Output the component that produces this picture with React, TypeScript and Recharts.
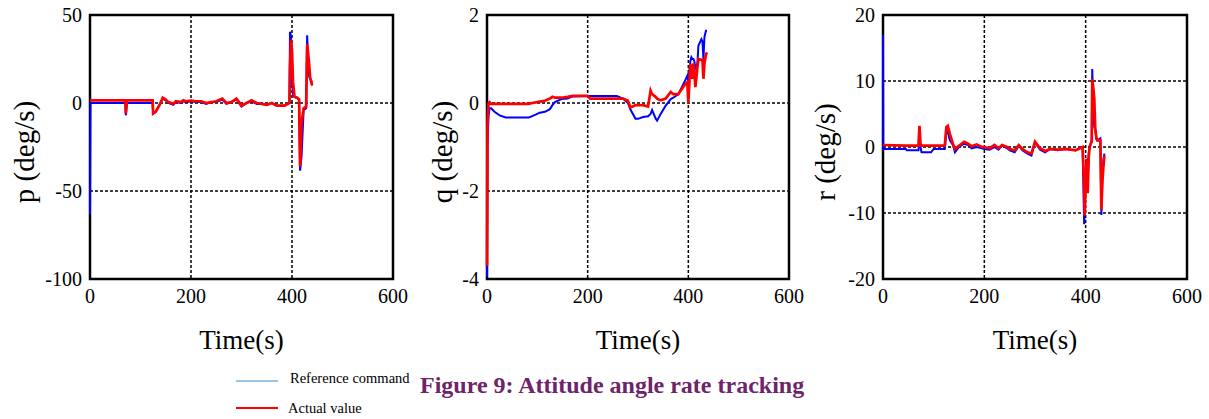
import React from 'react';
import { LineChart, Line, XAxis, YAxis, CartesianGrid, ReferenceArea, Label } from 'recharts';

// ---------- data ----------
const X_TICKS = [0, 200, 400, 600];

const P_TIME = [0, 1, 70, 71, 73, 124, 125, 130, 138, 144, 150, 155, 165, 170, 180, 185, 190, 200, 210, 220, 230, 240, 250, 262, 270, 280, 290, 300, 310, 320, 330, 340, 350, 360, 370, 385, 395, 396, 398, 400, 402, 405, 410, 414, 416, 419, 423, 428, 430, 432, 434, 436, 438, 440];
const P_REF = [-63, 0, 0, -7, 0, 0, -6, -5, -1, 2.5, 1.5, 0, -1, 0.5, 0, 1, 0.5, 1, 0.5, 0.5, -0.5, 0.5, 0.5, 2, -0.5, 0.5, 2, -2, 0, 1, -0.5, -0.5, -1, 0, -1.5, -1.5, 0, 40.5, 38, 12, 5, 3.5, 3, 2, -38.5, -30, -4, -3, 38.5, 25, 15, 14, 13, 10];
const P_ACT = [1.5, 1.5, 1.5, -6, 1.5, 1.5, -6, -5, -1, 3, 2, 0.5, -0.5, 1, 0.5, 1.5, 1, 1.3, 1, 1, 0, 0.5, 1, 2.5, 0, 0.5, 2.5, -1.5, 0, 1.5, 0, -0.5, -1, 0, -1.5, -1.5, 0, 20, 36, 30, 12, 3.5, 3, 2, -36, -11, -3, -2, 33.5, 28, 22, 14, 12, 10];
const P_TICKS = [-100, -50, 0, 50];

const Q_TIME = [0, 1, 3, 5, 8, 15, 25, 37, 83, 90, 105, 115, 125, 130, 135, 148, 160, 170, 200, 205, 258, 270, 280, 285, 295, 300, 310, 320, 325, 328, 335, 338, 345, 355, 365, 370, 380, 392, 398, 400, 404, 406, 408, 410, 412, 414, 418, 420, 426, 428, 430, 432, 435, 437];
const Q_REF = [-3.95, -0.9, -0.3, -0.12, -0.12, -0.2, -0.28, -0.33, -0.33, -0.3, -0.22, -0.2, -0.14, -0.05, 0.02, 0.09, 0.1, 0.15, 0.16, 0.16, 0.16, 0.1, 0, -0.15, -0.36, -0.36, -0.32, -0.3, -0.25, -0.16, -0.35, -0.4, -0.25, -0.06, 0.09, 0.12, 0.2, 0.47, 0.62, 0.5, 0.95, 1.04, 1.0, 1.0, 0.95, 0.8, 0.9, 1.3, 1.45, 1.4, 1.0, 1.5, 1.64, 1.64];
const Q_ACT = [-3.7, -0.5, 0, 0.02, -0.02, -0.02, -0.02, -0.02, -0.02, 0, 0.03, 0.05, 0.1, 0.14, 0.12, 0.12, 0.14, 0.16, 0.16, 0.1, 0.1, 0.1, 0.05, -0.1, -0.05, -0.05, -0.05, -0.08, 0.28, 0.2, 0.14, 0.1, 0.06, 0.1, 0.25, 0.2, 0.2, 0.4, 0.47, 0, 0.89, 0.7, 0.55, 0.9, 0.7, 0.36, 0.8, 1.0, 0.98, 0.98, 0.55, 0.9, 1.1, 1.15];
const Q_TICKS = [-4, -2, 0, 2];

const R_TIME = [0, 0.5, 45, 47, 70, 72, 74, 76, 95, 100, 122, 125, 128, 132, 138, 142, 150, 160, 168, 175, 185, 195, 200, 210, 220, 228, 235, 245, 250, 260, 268, 275, 285, 293, 300, 310, 320, 330, 345, 360, 380, 394, 397, 398, 400, 402, 404, 406, 408, 410, 412, 413, 415, 417, 419, 421, 423, 429, 431, 433, 435, 437];
const R_REF = [17, -0.3, -0.3, -0.5, -0.5, 1.2, 0, -0.8, -0.8, -0.3, -0.3, 2.5, 2.2, 1.0, 0.3, -0.8, 0, 0.5, 0.3, -0.2, 0, -0.2, -0.3, -0.4, 0, -0.4, 0.2, -0.2, -0.5, -0.8, 0.2, -0.5, -1.0, -1.3, 0.7, -0.4, -0.8, -0.3, -0.5, -0.3, -0.5, 0, -11.7, -10, -3, -1.8, -5, -1, 0.2, 0.5, 1, 11.8, 5, 3, 2.7, 1.2, 1.0, 1.3, -10.3, -4, -2, -1];
const R_ACT = [0.3, 0.3, 0.2, 0.2, 0.2, 3.2, 0.5, 0.2, 0.2, 0.2, 0.2, 3.0, 3.2, 2.0, 0.5, -0.3, 0.2, 0.8, 0.5, 0.1, 0.4, 0, 0, -0.2, 0.3, -0.2, 0.3, 0, -0.3, -0.5, 0.3, -0.3, -0.8, -1.0, 0.8, -0.2, -0.6, -0.3, -0.4, -0.3, -0.5, 0, -6, -10.4, -6, -1.8, -7, -1.5, 0, 0.5, 0.8, 10.3, 9, 7.3, 2.7, 1.5, 1.0, 1.0, -9.5, -5.3, -3, -1.3];
const R_TICKS = [-20, -10, 0, 10, 20];

const SERIES_NAMES = ['Reference command', 'Actual value'];
const SERIES_COLORS = ['#0000ff', '#ff0000'];
const LEGEND_COLORS = ['#9dc3e6', '#ff0000'];
const X_LABEL = 'Time(s)';
const TITLE = 'Figure 9: Attitude angle rate tracking';

const FONT = '"Liberation Serif", "Times New Roman", serif';

const rows = (time: number[], ref: number[], act: number[]) =>
  time.map((t, i) => ({ t, ref: ref[i], act: act[i] }));

type PanelProps = {
  data: { t: number; ref: number; act: number }[];
  ticks: number[];
  yLabel: string;
  left: number;
  width: number;
  yAxisWidth: number;
  marginRight: number;
  labelDist: number;
};

const Panel = ({ data, ticks, yLabel, left, width, yAxisWidth, marginRight, labelDist }: PanelProps) => {
  const domain = [ticks[0], ticks[ticks.length - 1]];
  const cx = yAxisWidth - labelDist;
  const cy = 152;
  const yLabelContent = () => (
    <text
      x={cx}
      y={cy}
      transform={`rotate(-90 ${cx} ${cy})`}
      textAnchor="middle"
      dominantBaseline="central"
      fontSize={29}
      fontFamily={FONT}
      fill="#000"
    >
      {yLabel}
    </text>
  );
  return (
    <div style={{ position: 'absolute', left, top: 0 }}>
      <LineChart width={width} height={360} data={data} margin={{ top: 15, right: marginRight, bottom: 0, left: 0 }}>
        <CartesianGrid stroke="#000" strokeDasharray="3 2" strokeWidth={1.5} />
        <XAxis
          dataKey="t"
          type="number"
          domain={[0, 600]}
          ticks={X_TICKS}
          height={81}
          tickLine={false}
          axisLine={false}
          tickSize={0}
          tickMargin={10}
          tick={{ fontSize: 20, fill: '#000', fontFamily: FONT }}
          interval={0}
        >
          <Label value={X_LABEL} position="insideBottom" offset={11} fontSize={27} fill="#000" fontFamily={FONT} />
        </XAxis>
        <YAxis
          type="number"
          domain={domain}
          ticks={ticks}
          width={yAxisWidth}
          tickLine={false}
          axisLine={false}
          tickSize={0}
          tickMargin={8}
          tick={{ fontSize: 20, fill: '#000', fontFamily: FONT }}
          interval={0}
          allowDataOverflow
        >
          <Label content={yLabelContent} />
        </YAxis>
        <Line dataKey="ref" name={SERIES_NAMES[0]} stroke={SERIES_COLORS[0]} strokeWidth={2} dot={false} isAnimationActive={false} type="linear" />
        <Line dataKey="act" name={SERIES_NAMES[1]} stroke={SERIES_COLORS[1]} strokeWidth={2.7} dot={false} isAnimationActive={false} type="linear" />
        <ReferenceArea x1={0} x2={600} y1={domain[0]} y2={domain[1]} fill="none" fillOpacity={0} stroke="#000" strokeWidth={2.5} ifOverflow="visible" />
      </LineChart>
    </div>
  );
};

export default function App() {
  return (
    <div style={{ position: 'absolute', left: 0, top: 0, width: 1209, height: 419, background: '#fff', overflow: 'hidden', fontFamily: FONT }}>
      <Panel data={rows(P_TIME, P_REF, P_ACT)} ticks={P_TICKS} yLabel="p (deg/s)" left={0} width={420} yAxisWidth={90} marginRight={27} labelDist={66} />
      <Panel data={rows(Q_TIME, Q_REF, Q_ACT)} ticks={Q_TICKS} yLabel="q (deg/s)" left={400} width={420} yAxisWidth={87} marginRight={31} labelDist={45} />
      <Panel data={rows(R_TIME, R_REF, R_ACT)} ticks={R_TICKS} yLabel="r (deg/s)" left={800} width={409} yAxisWidth={83} marginRight={22} labelDist={58} />
      <svg width={1209} height={60} style={{ position: 'absolute', left: 0, top: 359 }}>
        {SERIES_NAMES.map((name, i) => (
          <g key={name}>
            <line x1={236} x2={278} y1={22 + i * 27} y2={22 + i * 27} stroke={LEGEND_COLORS[i]} strokeWidth={2} />
            <text x={i === 0 ? 290 : 288} y={24 + i * 30} fontSize={14.5} fontFamily={FONT} fill="#000">
              {name}
            </text>
          </g>
        ))}
        <text x={420} y={34} fontSize={24} fontWeight="bold" fontFamily={FONT} fill="#6d2469">
          {TITLE}
        </text>
      </svg>
    </div>
  );
}
